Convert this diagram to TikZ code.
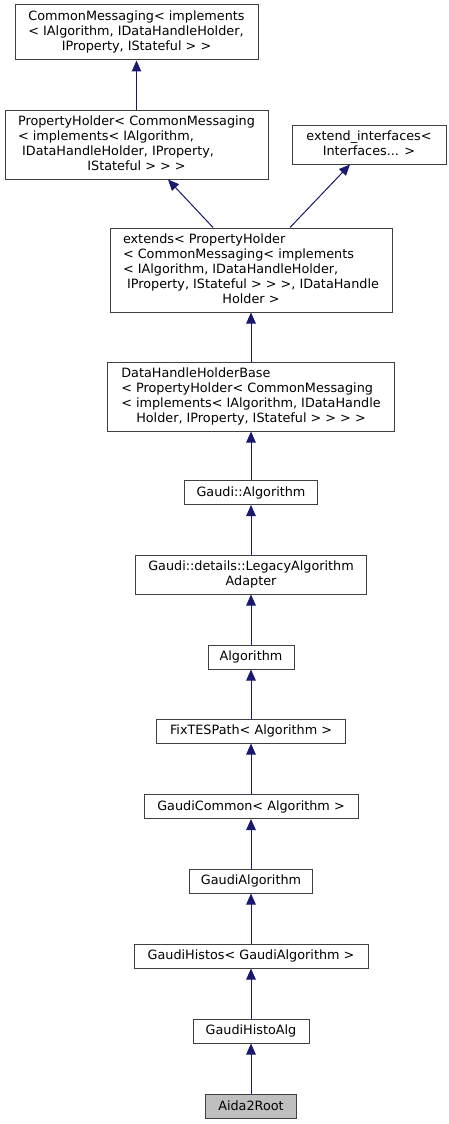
\documentclass[tikz,border=0pt]{standalone}
\usepackage{fontspec}
\setmainfont{DejaVu Sans}
\usetikzlibrary{arrows.meta}
\definecolor{edgeblue}{HTML}{191970}
\definecolor{boxline}{HTML}{404040}
\definecolor{curfill}{HTML}{BFBFBF}
\newcommand{\lastc}[1]{\multicolumn{1}{@{}c@{}}{#1}}
\newenvironment{lbl}{\begin{tabular}{@{}l@{}}}{\end{tabular}}
\begin{document}
\begin{tikzpicture}[x=1pt,y=1pt,
  box/.style={draw=boxline, line width=1pt, fill=white, inner sep=0pt,
    font=\fontsize{12.8pt}{15pt}\selectfont, align=center},
  edge/.style={draw=edgeblue, line width=1pt,
    -{Triangle[length=11pt,width=9.5pt]}, fill=edgeblue}]
\useasboundingbox (0,0) rectangle (448,-1124);

\node[box, minimum width=243pt, minimum height=55pt] (cm) at (136.5,-32.5)
  {\begin{lbl}CommonMessaging< implements\\< IAlgorithm, IDataHandleHolder,\\\lastc{IProperty, IStateful > >}\end{lbl}};
\node[box, minimum width=263pt, minimum height=69pt] (ph) at (136.5,-144.5)
  {\begin{lbl}PropertyHolder< CommonMessaging\\< implements< IAlgorithm,\\\ IDataHandleHolder, IProperty,\\\lastc{IStateful > > >}\end{lbl}};
\node[box, minimum width=154pt, minimum height=39pt] (ei) at (369,-144.5)
  {\begin{lbl}extend\_interfaces<\\\lastc{Interfaces... >}\end{lbl}};
\node[box, minimum width=282pt, minimum height=84pt] (ex) at (251,-270)
  {\begin{lbl}extends< PropertyHolder\\< CommonMessaging< implements\\< IAlgorithm, IDataHandleHolder,\\\ IProperty, IStateful > > >, IDataHandle\\\lastc{Holder >}\end{lbl}};
\node[box, minimum width=287pt, minimum height=69pt] (dh) at (251,-396.5)
  {\begin{lbl}DataHandleHolderBase\\< PropertyHolder< CommonMessaging\\< implements< IAlgorithm, IDataHandle\\\lastc{Holder, IProperty, IStateful > > > >}\end{lbl}};
\node[box, minimum width=133pt, minimum height=24pt] (ga) at (251,-492.5) {Gaudi::Algorithm};
\node[box, minimum width=231pt, minimum height=39pt] (la) at (251,-574.5)
  {Gaudi::details::LegacyAlgorithm\\Adapter};
\node[box, minimum width=86pt, minimum height=24pt] (al) at (251,-657) {Algorithm};
\node[box, minimum width=189pt, minimum height=24pt] (ft) at (251,-731) {FixTESPath< Algorithm >};
\node[box, minimum width=214pt, minimum height=24pt] (gc) at (251,-806.5) {GaudiCommon< Algorithm >};
\node[box, minimum width=123pt, minimum height=24pt] (galg) at (251,-881) {GaudiAlgorithm};
\node[box, minimum width=234pt, minimum height=24pt] (gh) at (251,-956) {GaudiHistos< GaudiAlgorithm >};
\node[box, minimum width=116pt, minimum height=24pt] (gha) at (251,-1031) {GaudiHistoAlg};
\node[box, fill=curfill, minimum width=91pt, minimum height=24pt] (ar) at (251,-1106) {Aida2Root};

\draw[edge] (ph.north) -- (cm.south);
\draw[edge] ([xshift=-38pt]ex.north) -- ([xshift=31.5pt]ph.south);
\draw[edge] ([xshift=39pt]ex.north) -- ([xshift=-19pt]ei.south);
\draw[edge] (dh.north) -- (ex.south);
\draw[edge] (ga.north) -- (dh.south);
\draw[edge] (la.north) -- (ga.south);
\draw[edge] (al.north) -- (la.south);
\draw[edge] (ft.north) -- (al.south);
\draw[edge] (gc.north) -- (ft.south);
\draw[edge] (galg.north) -- (gc.south);
\draw[edge] (gh.north) -- (galg.south);
\draw[edge] (gha.north) -- (gh.south);
\draw[edge] (ar.north) -- (gha.south);
\end{tikzpicture}
\end{document}
